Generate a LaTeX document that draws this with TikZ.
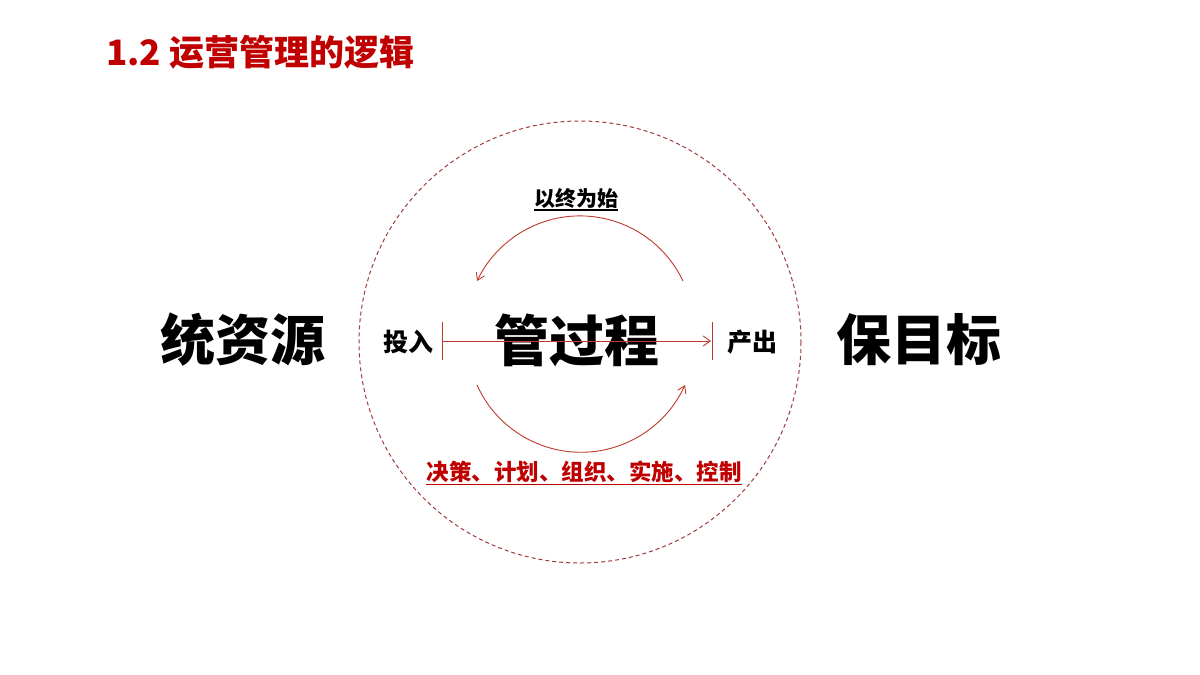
\documentclass[tikz,border=0pt]{standalone}
\usepackage{fontspec}
\newfontfamily\cjk{Noto Sans CJK SC}
\usetikzlibrary{arrows.meta,calc}
\definecolor{titlered}{HTML}{C00000}
\definecolor{circred}{HTML}{A23B3B}
\definecolor{arcred}{HTML}{C0392B}
\tikzset{
  every node/.style={inner sep=0pt, font=\cjk\bfseries},
  bigword/.style={font=\cjk\bfseries\fontsize{55}{58}\selectfont},
  smallword/.style={font=\cjk\bfseries\fontsize{25}{28}\selectfont},
  labelword/.style={font=\cjk\bfseries\fontsize{21}{24}\selectfont},
  arcline/.style={draw=arcred, line width=0.9pt, -{Straight Barb[length=7pt,width=9pt]}},
  flowline/.style={draw=arcred, line width=0.9pt},
  uline/.style={line width=1.2pt},
}
\begin{document}
\begin{tikzpicture}[x=1pt,y=-1pt]
\useasboundingbox (0,0) rectangle (1200,675);
\fill[white] (0,0) rectangle (1200,675);
% title
\node[anchor=west, text=titlered, font=\cjk\bfseries\fontsize{35}{38}\selectfont] (title) at (106,52) {1.2 运营管理的逻辑};
% dashed circle
\draw[circred, line width=1pt, dash pattern=on 4pt off 3pt] (580,342) circle[radius=221];
% big words
\node[bigword] (res) at (243,340) {统资源};
\node[bigword] (proc) at (577,340) {管过程};
\node[bigword] (goal) at (919,340) {保目标};
% input/output
\node[smallword] (in) at (408,342) {投入};
\node[smallword] (out) at (752,342) {产出};
% line with bars
\coordinate (ls) at (442,341);
\coordinate (le) at (711,341);
\draw[flowline] ($(ls)+(0,-19)$) -- ($(ls)+(0,19)$);
\draw[flowline] ($(le)+(1,-19)$) -- ($(le)+(1,19)$);
\draw[flowline, -{Straight Barb[length=7pt,width=10pt]}] (ls) -- (le);
% arcs
\coordinate (ua) at (683,281);
\coordinate (la) at (477,385);
\draw[arcline] (ua) arc[start angle=-25.4, end angle=-154.6, radius=114];
\draw[arcline] (la) arc[start angle=155.8, end angle=24.2, radius=114];
% labels
\node[labelword] (top) at (576,198) {以终为始};
\draw[uline, black] ($(top.base west)+(0,4)$) -- ($(top.base east)+(0,4)$);
\node[labelword, text=titlered, font=\cjk\bfseries\fontsize{22.5}{25}\selectfont] (bottom) at (584,472) {决策、计划、组织、实施、控制};
\draw[uline, titlered] ($(bottom.base west)+(0,4)$) -- ($(bottom.base east)+(0,4)$);
\end{tikzpicture}
\end{document}
